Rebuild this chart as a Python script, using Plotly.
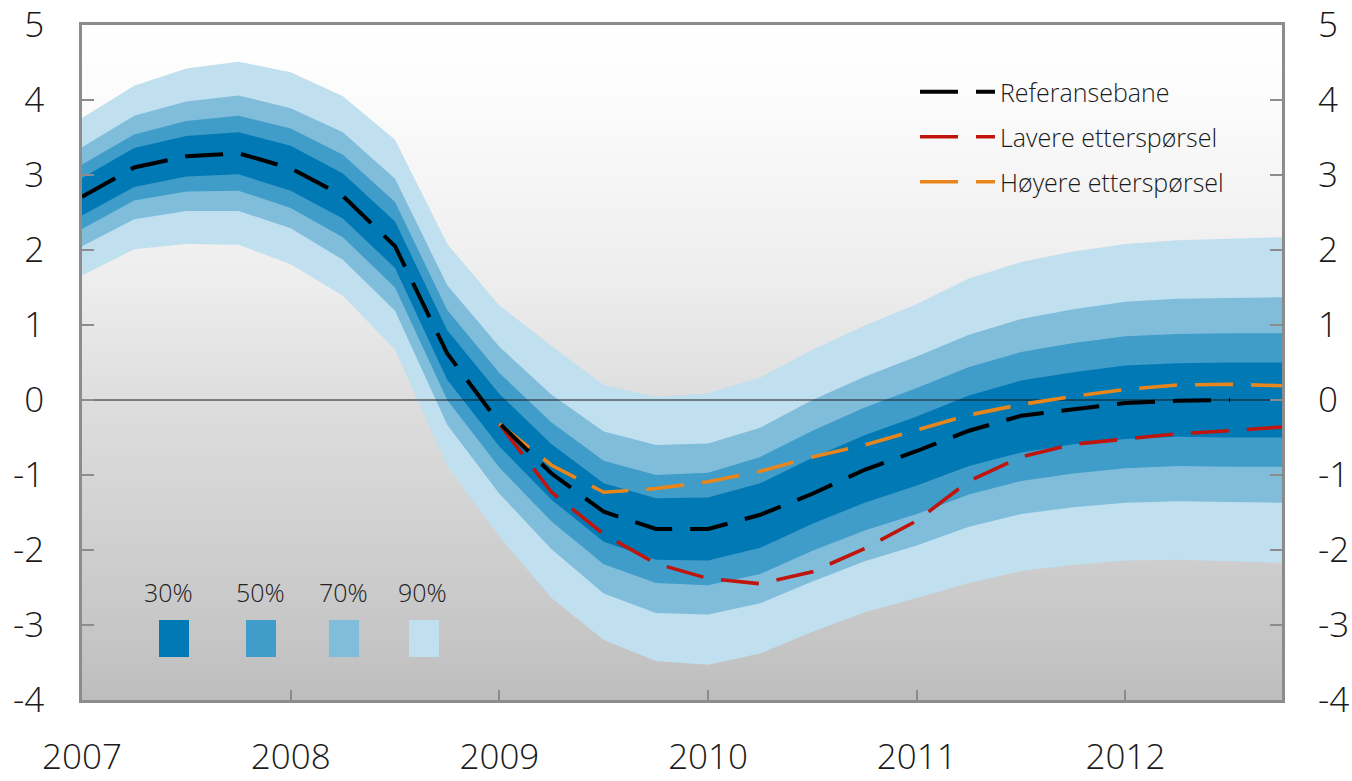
import plotly.graph_objects as go

# ---------------- data ----------------
quarters = [y + q / 4 for y in range(2007, 2013) for q in range(4)]   # 2007K1 .. 2012K4
year_ticks = [2007, 2008, 2009, 2010, 2011, 2012]
year_labels = ["2007", "2008", "2009", "2010", "2011", "2012"]
y_ticks = [5, 4, 3, 2, 1, 0, -1, -2, -3, -4]
y_labels = ["5", "4", "3", "2", "1", "0", "-1", "-2", "-3", "-4"]

# reference path (2007K1 .. 2012K3)
referansebane = [2.71, 3.10, 3.25, 3.29, 3.09, 2.72, 2.05, 0.62, -0.31, -0.98, -1.49,
                 -1.72, -1.72, -1.53, -1.25, -0.93, -0.68, -0.41, -0.21, -0.12, -0.04,
                 -0.01, 0.00]
# alternative scenarios (2009K1 .. 2012K4)
lavere = [-0.32, -1.23, -1.79, -2.18, -2.38, -2.45, -2.29, -1.98, -1.61, -1.08, -0.76,
          -0.59, -0.52, -0.45, -0.41, -0.36]
hoyere = [-0.32, -0.87, -1.23, -1.18, -1.09, -0.95, -0.76, -0.60, -0.40, -0.20, -0.06,
          0.05, 0.14, 0.20, 0.21, 0.19]

# uncertainty fan (upper / lower limits)
b30_hi = [2.96, 3.36, 3.52, 3.57, 3.39, 3.02, 2.38, 0.93, 0.08, -0.59, -1.11, -1.31,
          -1.30, -1.11, -0.77, -0.47, -0.22, 0.06, 0.26, 0.37, 0.46, 0.49, 0.50, 0.50]
b30_lo = [2.46, 2.84, 2.98, 3.01, 2.79, 2.42, 1.76, 0.27, -0.62, -1.33, -1.89, -2.13,
          -2.14, -1.97, -1.65, -1.37, -1.14, -0.88, -0.70, -0.59, -0.52, -0.49, -0.50, -0.50]
b50_hi = [3.14, 3.54, 3.72, 3.79, 3.62, 3.27, 2.64, 1.20, 0.36, -0.30, -0.81, -1.00,
          -0.97, -0.76, -0.41, -0.10, 0.16, 0.44, 0.64, 0.76, 0.85, 0.88, 0.89, 0.89]
b50_lo = [2.28, 2.66, 2.78, 2.79, 2.56, 2.17, 1.50, 0.00, -0.90, -1.62, -2.19, -2.44,
          -2.47, -2.32, -2.01, -1.74, -1.52, -1.26, -1.08, -0.98, -0.91, -0.88, -0.89, -0.89]
b70_hi = [3.37, 3.79, 3.98, 4.06, 3.89, 3.57, 2.95, 1.53, 0.71, 0.07, -0.42, -0.60,
          -0.58, -0.37, 0.00, 0.31, 0.58, 0.87, 1.08, 1.21, 1.31, 1.35, 1.36, 1.37]
b70_lo = [2.05, 2.41, 2.52, 2.52, 2.29, 1.87, 1.19, -0.33, -1.25, -1.99, -2.58, -2.84,
          -2.86, -2.71, -2.42, -2.15, -1.94, -1.69, -1.52, -1.43, -1.37, -1.35, -1.36, -1.37]
b90_hi = [3.76, 4.19, 4.42, 4.51, 4.37, 4.05, 3.47, 2.08, 1.26, 0.72, 0.20, 0.04,
          0.09, 0.30, 0.67, 0.99, 1.28, 1.62, 1.84, 1.98, 2.08, 2.13, 2.15, 2.17]
b90_lo = [1.66, 2.01, 2.08, 2.07, 1.81, 1.39, 0.67, -0.88, -1.82, -2.64, -3.20, -3.48,
          -3.53, -3.38, -3.09, -2.83, -2.64, -2.44, -2.28, -2.20, -2.14, -2.13, -2.15, -2.17]

band_labels = ["30%", "50%", "70%", "90%"]
band_colors = ["#0079b5", "#409cc8", "#80bddb", "#c0dfef"]

# ---------------- figure ----------------
W, H = 1352, 781
ML, MR, MT, MB = 82, 70, 25, 81
PW, PH = W - ML - MR, H - MT - MB


def px_x(x):
    return (x - ML) / PW


def px_y(y):
    return 1 - (y - MT) / PH


FONT = "Open Sans"
fig = go.Figure()

bands = [(b90_hi, b90_lo, band_colors[3]), (b70_hi, b70_lo, band_colors[2]),
         (b50_hi, b50_lo, band_colors[1]), (b30_hi, b30_lo, band_colors[0])]
for hi, lo, col in bands:
    fig.add_trace(go.Scatter(x=quarters, y=hi, mode="lines", line=dict(width=0, color=col),
                             showlegend=False, hoverinfo="skip"))
    fig.add_trace(go.Scatter(x=quarters, y=lo, mode="lines", line=dict(width=0, color=col),
                             fill="tonexty", fillcolor=col, showlegend=False, hoverinfo="skip"))

# zero line over the fan
fig.add_trace(go.Scatter(x=[quarters[0], quarters[-1]], y=[0, 0], mode="lines",
                         line=dict(color="#1a1a1a", width=1.2), showlegend=False,
                         hoverinfo="skip"))

DASH = "38px,18px"
fig.add_trace(go.Scatter(x=quarters[8:], y=lavere, mode="lines", name="Lavere etterspørsel",
                         line=dict(color="#c0150c", width=3.6, dash=DASH), legend="legend2"))
fig.add_trace(go.Scatter(x=quarters[8:], y=hoyere, mode="lines", name="Høyere etterspørsel",
                         line=dict(color="#e8861c", width=3.6, dash=DASH), legend="legend3"))
fig.add_trace(go.Scatter(x=quarters[:len(referansebane)], y=referansebane, mode="lines",
                         name="Referansebane",
                         line=dict(color="#000000", width=4, dash=DASH), legend="legend"))

# dummy trace to carry the right-hand axis
fig.add_trace(go.Scatter(x=[quarters[0]], y=[None], yaxis="y2", showlegend=False,
                         hoverinfo="skip"))

# background gradient (white at top to grey at bottom)
stops = [(0.0, 190), (0.15, 202), (0.45, 222), (0.6, 236), (0.9, 252), (1.0, 255)]
N = 90
for k in range(N):
    t = (k + 0.5) / N
    for (t0, v0), (t1, v1) in zip(stops[:-1], stops[1:]):
        if t0 <= t <= t1:
            v = v0 + (v1 - v0) * (t - t0) / (t1 - t0)
            break
    g = int(round(v))
    fig.add_shape(type="rect", xref="x domain", yref="y domain", x0=0, x1=1,
                  y0=k / N, y1=(k + 1) / N + 0.002, fillcolor=f"rgb({g},{g},{g})",
                  line=dict(width=0), layer="below")

# fan legend (boxes + labels)
box_left = [159, 246, 329, 409]
label_cx = [168, 260, 343, 422]
for lab, col, bl, cx in zip(band_labels, band_colors, box_left, label_cx):
    fig.add_shape(type="rect", xref="paper", yref="paper", x0=px_x(bl), x1=px_x(bl + 30),
                  y0=px_y(657), y1=px_y(620), fillcolor=col, line=dict(width=0),
                  layer="above")
    fig.add_annotation(xref="paper", yref="paper", x=px_x(cx), y=px_y(592), text=lab,
                       showarrow=False, xanchor="center", yanchor="middle",
                       font=dict(family=FONT, size=25, color="#222222", weight=300))

leg_common = dict(bgcolor="rgba(0,0,0,0)", borderwidth=0, xanchor="left",
                  yanchor="middle", itemwidth=75,
                  font=dict(family=FONT, size=25, color="#1a1a1a", weight=300))
lx = px_x(915)
fig.update_layout(
    legend=dict(x=lx, y=px_y(92), **leg_common),
    legend2=dict(x=lx, y=px_y(137), **leg_common),
    legend3=dict(x=lx, y=px_y(182), **leg_common),
)

axis_font = dict(family=FONT, size=35, color="#1a1a1a", weight=300)
fig.update_layout(
    width=W, height=H, autosize=False,
    margin=dict(l=ML, r=MR, t=MT, b=MB, pad=0),
    paper_bgcolor="white", plot_bgcolor="white",
    xaxis=dict(range=[quarters[0], quarters[-1]], tickvals=year_ticks, ticktext=year_labels,
               ticks="inside", ticklen=10, tickwidth=1.5, tickcolor="#8c8c8c",
               showline=True, linecolor="#8c8c8c", linewidth=2.5, mirror=True,
               showgrid=False, zeroline=False, tickfont=axis_font, ticklabelstandoff=24,
               automargin=False),
    yaxis=dict(range=[-4, 5], tickvals=y_ticks, ticktext=y_labels,
               ticks="inside", ticklen=12, tickwidth=1.5, tickcolor="#8c8c8c",
               showline=True, linecolor="#8c8c8c", linewidth=2.5, mirror=True,
               showgrid=False, zeroline=False, tickfont=axis_font, ticklabelstandoff=28,
               automargin=False),
    yaxis2=dict(range=[-4, 5], tickvals=y_ticks, ticktext=y_labels, overlaying="y",
                side="right", ticks="inside", ticklen=12, tickwidth=1.5,
                tickcolor="#8c8c8c", showline=False, showgrid=False, zeroline=False,
                tickfont=axis_font, ticklabelstandoff=35, automargin=False),
)

fig.write_html("out.html", config={"displayModeBar": False},
               post_script="document.body.style.margin='0';document.body.style.overflow='hidden';")
